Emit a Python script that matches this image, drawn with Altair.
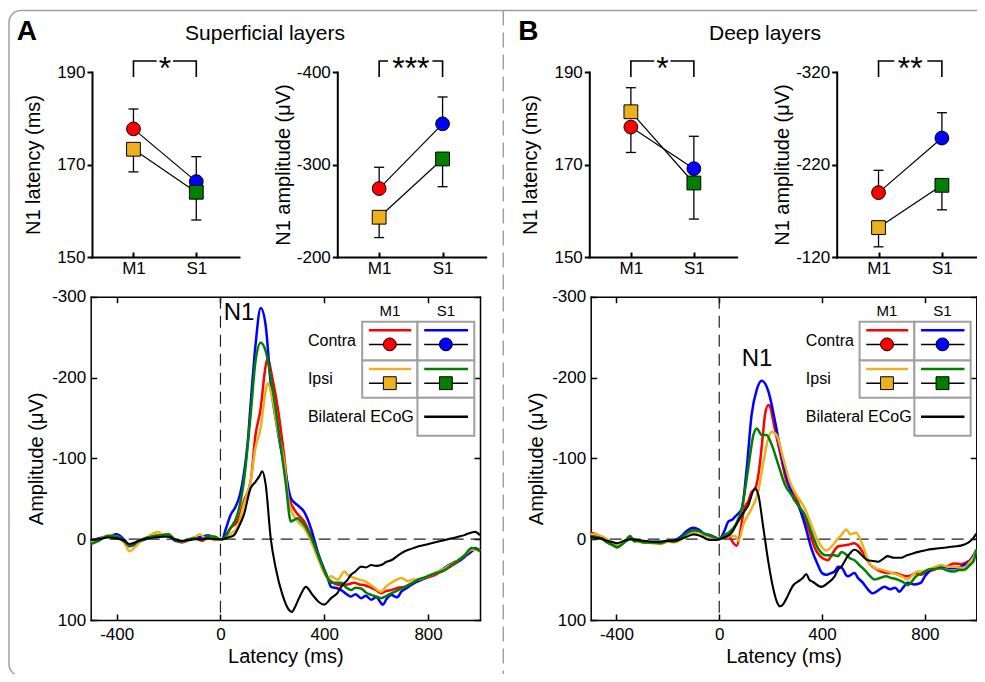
import altair as alt
import pandas as pd

# ------------------------------------------------------------------ data
conditions = ["Contra M1", "Contra S1", "Ipsi M1", "Ipsi S1"]
condition_area = [1, 2, 1, 2]            # 1 = M1, 2 = S1
condition_side = ["Contra", "Contra", "Ipsi", "Ipsi"]

sup_latency = [177.7, 166.3, 173.3, 164.0]
sup_latency_err = [182.0, 171.7, 168.4, 158.0]
sup_amplitude = [-274, -344, -243, -306]
sup_amplitude_err = [-297, -373, -221, -276]
deep_latency = [178.1, 169.1, 181.4, 166.0]
deep_latency_err = [172.6, 176.1, 186.6, 158.2]
deep_amplitude = [-189.6, -248.6, -151.8, -197.5]
deep_amplitude_err = [-213.7, -276.0, -131.0, -171.0]

latency_ticks = [150, 170, 190]
sup_amplitude_ticks = [-400, -300, -200]
deep_amplitude_ticks = [-320, -220, -120]
ts_x_ticks = [-400, 0, 400, 800]
ts_y_ticks = [-300, -200, -100, 0, 100]

stars = {"A_lat": "*", "A_amp": "***", "B_lat": "*", "B_amp": "**"}

# time courses [latency ms, amplitude uV]
sup_contra_m1 = [[-500, 2], [-470, 0], [-434, -4], [-395, -2], [-370, 3], [-350, 9], [-330, 5], [-305, 1], [-280, -2], [-253, -4], [-225, -5], [-201, -5], [-175, 1], [-149, 4], [-120, 1], [-97, -1], [-70, 2], [-46, -3], [-20, 1], [0, 0],
                 [7, 0], [39, -14], [65, -22], [90, -47], [116, -71], [135, -129], [155, -162], [170, -205], [181, -224], [200, -199], [219, -166], [245, -104], [265, -51], [290, -34], [322, -22], [348, -5], [374, 20], [413, 48], [440, 55], [465, 57], [490, 56], [516, 54], [535, 56], [555, 57], [580, 60], [600, 63], [619, 67], [640, 64], [658, 63], [685, 60], [710, 59], [735, 55], [761, 52], [790, 48], [813, 46], [840, 42], [865, 38], [890, 33], [916, 28], [940, 22], [968, 15], [985, 12], [1000, 14]]
sup_contra_s1 = [[-500, 2], [-470, -1], [-434, -3], [-400, -6], [-370, 1], [-350, 8], [-330, 7], [-305, 2], [-280, -1], [-253, -4], [-225, -4], [-201, -5], [-175, 2], [-149, 3], [-120, 0], [-97, -2], [-70, -3], [-46, -5], [-20, 0], [0, 0],
                 [7, 0], [20, -12], [39, -30], [58, -40], [75, -55], [90, -80], [105, -120], [116, -166], [135, -240], [155, -286], [174, -265], [194, -191], [219, -137], [240, -100], [252, -80], [271, -51], [297, -42], [322, -34], [348, -14], [374, 15], [413, 48], [426, 59], [452, 61], [465, 63], [490, 69], [503, 71], [520, 68], [542, 73], [560, 70], [581, 75], [600, 72], [626, 81], [640, 74], [658, 69], [680, 72], [697, 65], [720, 60], [748, 54], [775, 50], [800, 46], [826, 42], [852, 38], [880, 32], [903, 28], [925, 26], [942, 21], [965, 16], [981, 11], [1000, 15]]
sup_ipsi_m1 = [[-500, 3], [-470, 1], [-434, -5], [-395, -3], [-370, 5], [-350, 15], [-330, 10], [-305, 2], [-280, -3], [-253, -8], [-240, -9], [-225, -6], [-201, -6], [-175, 0], [-149, 3], [-120, 0], [-97, -3], [-80, -6], [-60, -2], [-46, -4], [-20, 1], [0, 0],
               [7, 0], [39, -7], [65, -14], [90, -43], [116, -71], [135, -113], [155, -138], [170, -175], [181, -193], [200, -174], [219, -138], [245, -96], [265, -43], [297, -22], [322, -14], [348, 2], [380, 27], [413, 48], [426, 46], [452, 50], [477, 40], [490, 44], [516, 48], [535, 50], [555, 52], [585, 58], [619, 65], [640, 58], [658, 54], [680, 50], [697, 48], [723, 52], [740, 50], [761, 50], [790, 47], [813, 44], [840, 40], [865, 36], [890, 31], [916, 26], [940, 20], [968, 13], [985, 13], [1000, 15]]
sup_ipsi_s1 = [[-500, 6], [-470, 2], [-434, -4], [-395, -3], [-370, 3], [-350, 8], [-330, 5], [-305, 1], [-280, -2], [-253, -4], [-225, -5], [-201, -6], [-175, 1], [-149, 3], [-120, 0], [-97, -1], [-70, 1], [-46, -4], [-20, -3], [0, 0],
               [7, 0], [39, -14], [65, -30], [90, -71], [116, -153], [135, -220], [155, -243], [174, -233], [200, -188], [226, -130], [252, -68], [271, -22], [285, -24], [297, -26], [310, -22], [322, -18], [355, 2], [380, 23], [413, 48], [426, 54], [465, 54], [485, 60], [503, 63], [520, 60], [542, 61], [560, 66], [581, 69], [600, 71], [619, 73], [640, 70], [658, 67], [685, 63], [710, 59], [735, 55], [761, 50], [790, 47], [813, 44], [840, 41], [865, 38], [890, 32], [916, 26], [940, 20], [968, 11], [985, 12], [1000, 15]]
sup_ecog = [[-500, 1], [-470, 0], [-434, -2], [-400, -1], [-370, 2], [-350, 6], [-330, 4], [-305, 1], [-280, -1], [-253, -2], [-225, -3], [-201, -3], [-175, 0], [-149, 2], [-120, 1], [-97, 0], [-70, 0], [-46, -1], [-20, 0], [0, 0],
            [7, 0], [30, -2], [52, -5], [70, -15], [90, -30], [116, -63], [135, -71], [150, -78], [161, -84], [174, -68], [194, 0], [213, 36], [239, 69], [265, 88], [275, 90], [290, 82], [310, 68], [329, 59], [355, 69], [380, 78], [400, 81], [426, 73], [452, 66], [465, 59], [490, 50], [503, 44], [520, 40], [542, 34], [560, 35], [581, 32], [600, 33], [619, 32], [640, 28], [658, 26], [685, 20], [710, 15], [735, 12], [761, 9], [790, 7], [813, 5], [840, 3], [865, 1], [890, -1], [916, -3], [940, -5], [955, -7], [981, -9], [1000, -5]]

deep_contra_m1 = [[-500, -8], [-488, -7], [-460, -3], [-437, 1], [-410, 6], [-398, 8], [-370, 3], [-346, -1], [-320, 2], [-294, 3], [-260, 4], [-230, 4], [-200, 2], [-178, 3], [-150, 0], [-127, -8], [-100, -11], [-80, -10], [-60, -6], [-36, -4], [-15, -2], [0, 0],
                  [20, -2], [36, -4], [55, 5], [68, 8], [80, -5], [88, -22], [100, -40], [113, -47], [125, -58], [139, -62], [150, -75], [159, -96], [170, -130], [178, -154], [191, -166], [200, -162], [210, -146], [236, -108], [262, -71], [294, -55], [320, -34], [346, -14], [372, 11], [404, 24], [423, 26], [440, 18], [462, 9], [480, 8], [500, 7], [526, 5], [540, 8], [552, 13], [570, 22], [584, 30], [605, 36], [630, 40], [655, 42], [681, 42], [705, 44], [733, 46], [750, 44], [765, 42], [785, 44], [810, 40], [835, 38], [862, 34], [890, 33], [914, 30], [940, 31], [965, 28], [985, 24], [1000, 15]]
deep_contra_s1 = [[-500, -5], [-488, -4], [-460, -2], [-437, 3], [-410, 8], [-398, 10], [-370, 4], [-346, 0], [-320, 2], [-294, 3], [-260, 4], [-230, 5], [-200, 3], [-178, 2], [-150, -3], [-127, -10], [-100, -14], [-80, -12], [-60, -7], [-36, -5], [-15, -2], [0, 0],
                  [20, -10], [36, -22], [50, -24], [62, -28], [75, -32], [88, -38], [107, -88], [126, -154], [146, -185], [165, -196], [191, -183], [217, -146], [242, -104], [268, -71], [290, -50], [307, -42], [333, -18], [358, 11], [384, 32], [400, 42], [417, 44], [435, 42], [449, 40], [462, 34], [475, 35], [500, 46], [526, 42], [540, 48], [559, 54], [578, 62], [597, 67], [620, 63], [643, 59], [665, 62], [685, 60], [701, 65], [715, 60], [733, 54], [760, 56], [784, 54], [800, 46], [823, 38], [850, 35], [875, 34], [900, 36], [926, 36], [945, 33], [965, 30], [985, 22], [1000, 13]]
deep_ipsi_m1 = [[-500, -6], [-488, -6], [-460, -4], [-437, 0], [-410, 5], [-398, 7], [-370, 3], [-346, 0], [-320, 3], [-294, 4], [-260, 5], [-230, 6], [-200, 3], [-178, 4], [-150, 1], [-127, -6], [-100, -9], [-80, -9], [-60, -6], [-36, -3], [-15, -1], [0, 0],
                [20, -3], [36, -4], [62, -4], [75, 2], [94, -18], [126, -38], [152, -59], [172, -96], [191, -125], [204, -133], [223, -129], [249, -100], [275, -71], [300, -55], [333, -38], [358, -18], [384, 2], [417, 14], [440, 8], [460, 0], [475, -5], [494, -12], [510, -6], [520, -7], [533, -8], [548, 0], [560, 9], [584, 30], [610, 36], [635, 38], [655, 40], [675, 42], [694, 44], [715, 47], [733, 50], [750, 45], [771, 40], [790, 40], [810, 38], [835, 35], [862, 32], [890, 34], [914, 34], [935, 35], [952, 36], [975, 28], [991, 21], [1000, 13]]
deep_ipsi_s1 = [[-500, -3], [-488, -3], [-460, -1], [-437, 4], [-410, 8], [-398, 10], [-370, 4], [-346, -4], [-330, 3], [-320, 2], [-294, 4], [-260, 4], [-230, 5], [-200, 2], [-178, 3], [-150, -1], [-127, -7], [-100, -11], [-80, -10], [-60, -7], [-36, -4], [-15, -2], [0, 0],
                [20, -5], [36, -8], [62, -17], [88, -38], [113, -88], [133, -129], [146, -137], [165, -129], [184, -129], [204, -117], [230, -92], [256, -67], [281, -55], [307, -42], [333, -30], [358, -9], [384, 11], [417, 20], [449, 20], [462, 21], [475, 16], [494, 19], [510, 24], [526, 26], [545, 32], [565, 38], [585, 45], [604, 50], [625, 48], [649, 46], [670, 48], [694, 50], [715, 53], [733, 57], [750, 52], [765, 46], [790, 42], [810, 38], [835, 37], [862, 36], [890, 39], [914, 40], [935, 38], [952, 38], [975, 32], [991, 26], [1000, 13]]
deep_ecog = [[-500, -3], [-488, -2], [-460, -1], [-437, 2], [-410, 4], [-398, 5], [-370, 2], [-346, 0], [-320, 1], [-294, 2], [-260, 3], [-230, 3], [-200, 2], [-178, 2], [-150, 0], [-127, -3], [-100, -6], [-80, -5], [-60, -2], [-36, 1], [-15, 1], [0, 0],
             [20, -2], [49, -8], [70, -20], [88, -30], [113, -42], [139, -63], [152, -55], [172, -13], [191, 28], [210, 61], [225, 78], [236, 83], [250, 80], [262, 73], [288, 57], [313, 51], [325, 48], [339, 43], [350, 50], [365, 53], [397, 59], [423, 54], [449, 46], [462, 38], [475, 34], [500, 21], [526, 13], [540, 15], [552, 19], [578, 26], [600, 27], [617, 28], [635, 25], [655, 21], [680, 23], [707, 23], [730, 20], [759, 17], [785, 15], [810, 13], [835, 12], [862, 11], [890, 10], [914, 9], [940, 8], [965, 5], [985, 0], [1000, -7]]

series_names = ["Contra M1", "Contra S1", "Ipsi M1", "Ipsi S1", "Bilateral ECoG"]

# legend grid (in the time-course axes units)
legend_cols = [546, 759, 978]
legend_rows = [-269, -221, -175, -128]
legend_cells = [(0, 0, "Contra M1"), (1, 0, "Contra S1"), (0, 1, "Ipsi M1"), (1, 1, "Ipsi S1"), (1, 2, "Bilateral ECoG")]
legend_row_labels = ["Contra", "Ipsi", "Bilateral ECoG"]
legend_col_labels = ["M1", "S1"]

# ------------------------------------------------------------------ style / layout
FONT = "Liberation Sans"
COLORS = {"Contra M1": "#ff0000", "Contra S1": "#0000ff", "Ipsi M1": "#edb120",
          "Ipsi S1": "#008000", "Bilateral ECoG": "#000000"}
FILL = alt.Scale(domain=series_names, range=[COLORS[k] for k in series_names])
SHAPE = alt.Scale(domain=["Contra", "Ipsi"], range=["circle", "square"])

W, H, PM = 969, 666, 8
PLOTS = {
    "A_lat": dict(l=92, r=239, t=72, b=257, xd=[0.34, 2.68], yd=[150, 190], up=True),
    "A_amp": dict(l=337.3, r=485.7, t=72, b=257, xd=[0.34, 2.68], yd=[-400, -200], up=False),
    "B_lat": dict(l=589.3, r=736.7, t=72, b=257, xd=[0.34, 2.68], yd=[150, 190], up=True),
    "B_amp": dict(l=836.7, r=985, t=72, b=257, xd=[0.34, 2.68], yd=[-320, -120], up=False),
    "A_ts": dict(l=90.7, r=480, t=296.7, b=620, xd=[-500, 1000], yd=[-300, 100], up=False),
    "B_ts": dict(l=590.7, r=976.3, t=296.7, b=620, xd=[-500, 1000], yd=[-300, 100], up=False),
}
BRACKET_GAP = {"A_lat": (1.37, 1.63), "A_amp": (1.14, 1.84), "B_lat": (1.37, 1.63), "B_amp": (1.25, 1.77)}
BRACKET_PX = (61, 77)
N1_PX = {"A_ts": (239, 313), "B_ts": (757, 359)}


def c(v):
    return v - PM


def scale_x(p):
    return alt.Scale(domain=p["xd"], range=[c(p["l"]), c(p["r"])], nice=False, zero=False)


def scale_y(p):
    rng = [c(p["b"]), c(p["t"])] if p["up"] else [c(p["t"]), c(p["b"])]
    return alt.Scale(domain=p["yd"], range=rng, nice=False, zero=False)


def inv_y(p, px):
    frac = (px - p["t"]) / (p["b"] - p["t"])
    if p["up"]:
        return p["yd"][1] - frac * (p["yd"][1] - p["yd"][0])
    return p["yd"][0] + frac * (p["yd"][1] - p["yd"][0])


def axis_at(orient, pos, **kw):
    off = {"left": -pos, "right": pos - W, "top": -pos, "bottom": pos - H}[orient]
    base = dict(orient=orient, offset=off, grid=False, title=None, labelFlush=False,
                labelOverlap=False)
    base.update(kw)
    return alt.Axis(**base)


NUM = "'' + datum.value"
layers = []

# ------------------------------------------------------------------ decorations
one = pd.DataFrame({"k": [0]})
layers.append(alt.Chart(one).mark_rect(fill="transparent", stroke="#a0a0a0", strokeWidth=1.5, cornerRadius=12).encode(
    x=alt.value(1), x2=alt.value(1300), y=alt.value(2.5), y2=alt.value(668)))
layers.append(alt.Chart(one).mark_rule(color="#a0a0a0", strokeWidth=1.5, strokeDash=[15, 7]).encode(
    x=alt.value(c(503.3)), y=alt.value(2.5), y2=alt.value(H)))
for txt, xx, al, fs, fw in [("A", 16.7, "left", 28, "bold"), ("B", 518.3, "left", 28, "bold"),
                            ("Superficial layers", 265, "center", 21, "normal"),
                            ("Deep layers", 765, "center", 21, "normal")]:
    layers.append(alt.Chart(pd.DataFrame({"label": [txt]})).mark_text(
        font=FONT, fontSize=fs, fontWeight=fw, align=al, baseline="alphabetic", color="black").encode(
        x=alt.value(c(xx)), y=alt.value(c(39.5)), text="label:N"))


# ------------------------------------------------------------------ summary plots
def small_plot(key, vals, errs, title, ticks, title_pad):
    p = PLOTS[key]
    sx, sy = scale_x(p), scale_y(p)
    L, B = c(p["l"]), c(p["b"])
    df = pd.DataFrame({"area": condition_area, "val": vals, "err": errs,
                       "cond": conditions, "side": condition_side})
    base = alt.Chart(df)
    out = []
    out.append(base.mark_rule(color="black", strokeWidth=1.3).encode(
        x=alt.X("area:Q", scale=sx, axis=axis_at("top", B, values=[1, 2], labels=False, domain=False,
                                                   tickSize=5, tickWidth=2)),
        y=alt.Y("val:Q", scale=sy, axis=None), y2=alt.Y2("err")))
    out.append(base.mark_tick(orient="horizontal", size=10, thickness=1.3, color="black", opacity=1).encode(
        x=alt.X("area:Q", scale=sx, axis=None), y=alt.Y("err:Q", scale=sy, axis=None)))
    out.append(base.mark_line(color="black", strokeWidth=1.2).encode(
        x=alt.X("area:Q", scale=sx, axis=axis_at(
            "bottom", B, values=[1, 2], labelExpr="datum.value == 1 ? 'M1' : 'S1'", ticks=False,
            tickSize=0, labelPadding=3, domainWidth=2, domainCap="square")),
        y=alt.Y("val:Q", scale=sy, axis=axis_at(
            "left", L, values=ticks, labelExpr=NUM, tickSize=5, tickWidth=2, domainWidth=2,
            domainCap="square", labelPadding=2, title=title, titlePadding=title_pad)),
        detail="side:N"))
    out.append(base.mark_point(filled=True, size=190, stroke="black", strokeWidth=1, opacity=1).encode(
        x=alt.X("area:Q", scale=sx, axis=None), y=alt.Y("val:Q", scale=sy, axis=None),
        fill=alt.Fill("cond:N", scale=FILL, legend=None),
        shape=alt.Shape("side:N", scale=SHAPE, legend=None)))
    top, end = inv_y(p, BRACKET_PX[0]), inv_y(p, BRACKET_PX[1])
    g0, g1 = BRACKET_GAP[key]
    bdf = pd.DataFrame({"x": [1, 1, g0, g1, 2, 2], "y": [end, top, top, top, top, end],
                        "piece": ["L", "L", "L", "R", "R", "R"], "o": [0, 1, 2, 3, 4, 5]})
    out.append(alt.Chart(bdf).mark_line(color="black", strokeWidth=1.6).encode(
        x=alt.X("x:Q", scale=sx, axis=None), y=alt.Y("y:Q", scale=sy, axis=None),
        detail="piece:N", order="o:Q"))
    sdf = pd.DataFrame({"x": [1.5], "y": [top], "s": [stars[key]]})
    out.append(alt.Chart(sdf).mark_text(font=FONT, fontSize=32, baseline="alphabetic", dy=18,
                                        color="black").encode(
        x=alt.X("x:Q", scale=sx, axis=None), y=alt.Y("y:Q", scale=sy, axis=None), text="s:N"))
    return out


layers += small_plot("A_lat", sup_latency, sup_latency_err, "N1 latency (ms)", latency_ticks, 13)
layers += small_plot("A_amp", sup_amplitude, sup_amplitude_err, "N1 amplitude (\u03bcV)", sup_amplitude_ticks, 3)
layers += small_plot("B_lat", deep_latency, deep_latency_err, "N1 latency (ms)", latency_ticks, 13)
layers += small_plot("B_amp", deep_amplitude, deep_amplitude_err, "N1 amplitude (\u03bcV)", deep_amplitude_ticks, 3)


# ------------------------------------------------------------------ time courses
def ts_plot(key, series):
    p = PLOTS[key]
    sx, sy = scale_x(p), scale_y(p)
    L, R, T, B = c(p["l"]), c(p["r"]), c(p["t"]), c(p["b"])
    X = lambda f, axis=None: alt.X(f, type="quantitative", scale=sx, axis=axis)
    Y = lambda f, axis=None: alt.Y(f, type="quantitative", scale=sy, axis=axis)
    out = []
    hz = pd.DataFrame({"t0": [p["xd"][0]], "t1": [p["xd"][1]], "v": [0]})
    out.append(alt.Chart(hz).mark_rule(color="#222222", strokeWidth=1.2, strokeDash=[12, 7]).encode(
        x=X("t0", axis_at("bottom", B, values=ts_x_ticks, labelExpr=NUM, ticks=False, tickSize=0,
                          labelPadding=6, domainWidth=1.5, domainCap="square",
                          title="Latency (ms)", titlePadding=4)),
        x2=alt.X2("t1"),
        y=Y("v", axis_at("left", L, values=ts_y_ticks, labelExpr=NUM, ticks=False, tickSize=0,
                         labelPadding=5, domainWidth=1.5, domainCap="square",
                         title="Amplitude (\u03bcV)", titlePadding=5))))
    vt = pd.DataFrame({"t": [0], "v0": [p["yd"][0]], "v1": [p["yd"][1]]})
    out.append(alt.Chart(vt).mark_rule(color="#222222", strokeWidth=1.2, strokeDash=[12, 7]).encode(
        x=X("t", axis_at("top", B, values=ts_x_ticks, labels=False, domain=False, tickSize=6, tickWidth=1.5)),
        y=Y("v0", axis_at("right", L, values=ts_y_ticks, labels=False, domain=False, tickSize=6, tickWidth=1.5)),
        y2=alt.Y2("v1")))
    fr = pd.DataFrame({"t": [0], "v": [0]})
    out.append(alt.Chart(fr).mark_point(opacity=0).encode(
        x=X("t", axis_at("bottom", T, values=ts_x_ticks, labels=False, tickSize=6, tickWidth=1.5,
                         domainWidth=1.5, domainCap="square")),
        y=Y("v", axis_at("left", R, values=ts_y_ticks, labels=False, tickSize=6, tickWidth=1.5,
                         domainWidth=1.5, domainCap="square"))))
    for name, pts in zip(series_names, series):
        df = pd.DataFrame(pts, columns=["t", "v"])
        out.append(alt.Chart(df).mark_line(color=COLORS[name], strokeWidth=2.1 if name == "Bilateral ECoG" else 2.5,
                                           interpolate="monotone").encode(x=X("t"), y=Y("v")))
    nx, ny = N1_PX[key]
    out.append(alt.Chart(pd.DataFrame({"s": ["N1"]})).mark_text(font=FONT, fontSize=24, color="black").encode(
        x=alt.value(c(nx)), y=alt.value(c(ny)), text="s:N"))
    # legend
    cells = pd.DataFrame({
        "x0": [legend_cols[ci] for ci, ri, k in legend_cells],
        "x1": [legend_cols[ci + 1] for ci, ri, k in legend_cells],
        "y0": [legend_rows[ri] for ci, ri, k in legend_cells],
        "y1": [legend_rows[ri + 1] for ci, ri, k in legend_cells],
        "key": [k for ci, ri, k in legend_cells],
    })
    cells["xa"] = cells["x0"] + 26
    cells["xb"] = cells["x1"] - 24
    cells["xm"] = (cells["x0"] + cells["x1"]) / 2
    cells["yline"] = cells["y0"] + 10.5
    cells["ymark"] = cells["y0"] + 28
    cells["ymid"] = (cells["y0"] + cells["y1"]) / 2
    cells["side"] = [k.split(" ")[0] for k in cells["key"]]
    out.append(alt.Chart(cells).mark_rect(fill="white", stroke="#a0a0a0", strokeWidth=2).encode(
        x=X("x0"), x2=alt.X2("x1"), y=Y("y0"), y2=alt.Y2("y1")))
    mk = cells[cells["key"] != "Bilateral ECoG"]
    ec = cells[cells["key"] == "Bilateral ECoG"]
    out.append(alt.Chart(mk).mark_rule(strokeWidth=2.5).encode(
        x=X("xa"), x2=alt.X2("xb"), y=Y("yline"),
        color=alt.Color("key:N", scale=FILL, legend=None)))
    out.append(alt.Chart(mk).mark_rule(strokeWidth=1.5, color="black").encode(
        x=X("xa"), x2=alt.X2("xb"), y=Y("ymark")))
    out.append(alt.Chart(mk).mark_point(filled=True, size=165, stroke="black", strokeWidth=1, opacity=1).encode(
        x=X("xm"), y=Y("ymark"),
        fill=alt.Fill("key:N", scale=FILL, legend=None),
        shape=alt.Shape("side:N", scale=SHAPE, legend=None)))
    out.append(alt.Chart(ec).mark_rule(strokeWidth=2.5, color="black").encode(
        x=X("xa"), x2=alt.X2("xb"), y=Y("ymid")))
    rl = pd.DataFrame({"t": [337] * 3,
                       "v": [(legend_rows[i] + legend_rows[i + 1]) / 2 for i in range(3)],
                       "s": legend_row_labels})
    out.append(alt.Chart(rl).mark_text(font=FONT, fontSize=16, align="left", baseline="middle",
                                       color="black").encode(x=X("t"), y=Y("v"), text="s:N"))
    cl = pd.DataFrame({"t": [(legend_cols[i] + legend_cols[i + 1]) / 2 for i in range(2)],
                       "v": [-282.5] * 2, "s": legend_col_labels})
    out.append(alt.Chart(cl).mark_text(font=FONT, fontSize=15, align="center", baseline="middle",
                                       color="black").encode(x=X("t"), y=Y("v"), text="s:N"))
    return out


layers += ts_plot("A_ts", [sup_contra_m1, sup_contra_s1, sup_ipsi_m1, sup_ipsi_s1, sup_ecog])
layers += ts_plot("B_ts", [deep_contra_m1, deep_contra_s1, deep_ipsi_m1, deep_ipsi_s1, deep_ecog])

chart = alt.layer(*layers).resolve_scale(x="independent", y="independent").properties(
    width=W, height=H, padding=0, autosize=alt.AutoSizeParams(type="none")
).configure(font=FONT).configure_view(stroke=None).configure_axis(
    labelFont=FONT, titleFont=FONT, labelFontSize=17, titleFontSize=20, titleFontWeight="normal",
    labelColor="black", titleColor="black", domainColor="black", tickColor="black")

chart.save("out.html", embed_options={"renderer": "svg", "actions": False})
